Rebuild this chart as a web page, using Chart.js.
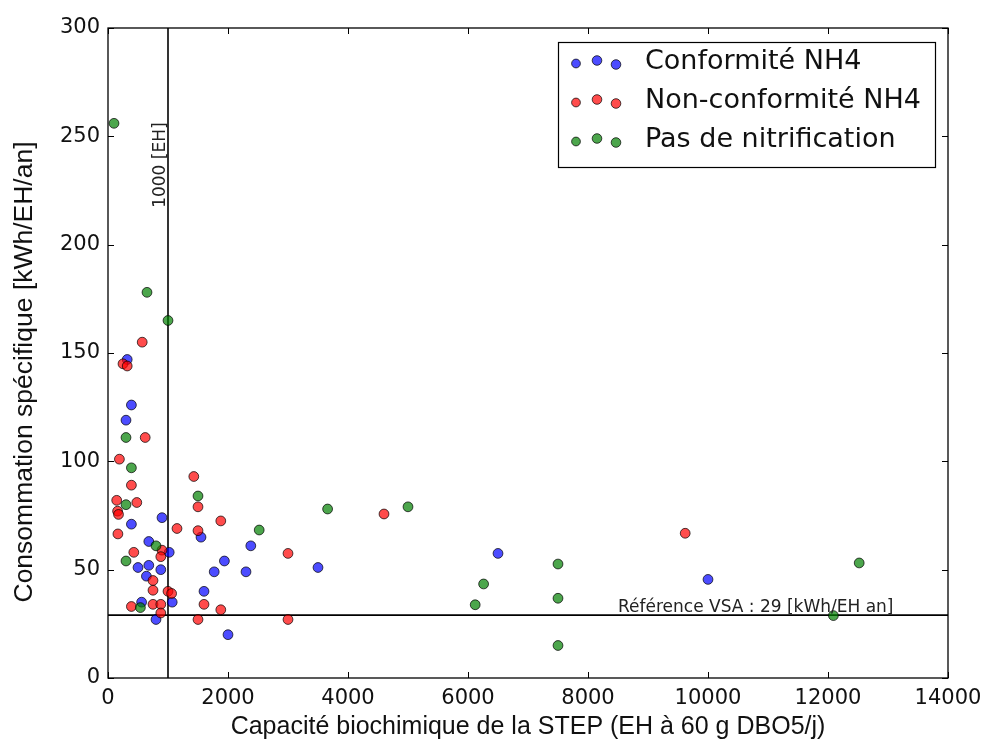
<!DOCTYPE html>
<html><head><meta charset="utf-8">
<script src="https://cdn.jsdelivr.net/npm/chart.js@4.4.0/dist/chart.umd.min.js"></script>
<style>html,body{margin:0;padding:0;background:#fff}</style>
</head><body>
<canvas id="c" width="986" height="742"></canvas>
<script>
// ---- data ----
const seriesNames = ['Conformité NH4', 'Non-conformité NH4', 'Pas de nitrification'];
const xTicks = [0, 2000, 4000, 6000, 8000, 10000, 12000, 14000];
const yTicks = [0, 50, 100, 150, 200, 250, 300];

const conformeX = [320, 390, 300, 390, 900, 1550, 680, 1020, 2380, 500, 680, 640, 880, 1940, 1770, 2300, 1070, 1600, 560, 800, 2000, 3500, 6500, 10000];
const conformeY = [147, 126, 119, 71, 74, 65, 63, 58, 61, 51, 52, 47, 50, 54, 49, 49, 35, 40, 35, 27, 20, 51, 57.5, 45.5];

const nonConformeX = [570, 250, 320, 620, 190, 1430, 390, 145, 480, 1500, 160, 175, 1880, 1150, 1500, 165, 900, 880, 430, 750, 750, 1000, 1060, 1600, 1880, 390, 750, 880, 880, 1500, 3000, 3000, 4600, 9620];
const nonConformeY = [155, 145, 144, 111, 101, 93, 89, 82, 81, 79, 77, 75.5, 72.5, 69, 68, 66.5, 59, 56, 58, 45, 40.5, 40, 39, 34, 31.5, 33, 34, 34, 30, 27, 27, 57.5, 75.7, 66.8];

const nitrifX = [100, 650, 1000, 300, 390, 300, 1500, 2520, 800, 300, 540, 3660, 5000, 6120, 6260, 7500, 7500, 7500, 12090, 12520];
const nitrifY = [256, 178, 165, 111, 97, 80, 84, 68.3, 61, 54, 32.5, 78, 79, 33.8, 43.4, 52.6, 36.8, 15, 28.8, 53.1];

const limitEH = 1000;           // vertical reference
const refVSA = 29;              // horizontal reference
const vLineX = [limitEH, limitEH], vLineY = [0, 300];
const hLineX = [0, 14000], hLineY = [refVSA, refVSA];
const refLabel = 'Référence VSA : 29 [kWh/EH an]';
const ehLabel = '1000 [EH]';
const xTitle = 'Capacité biochimique de la STEP (EH à 60 g DBO5/j)';
const yTitle = 'Consommation spécifique [kWh/EH/an]';

const colors = ['rgba(0,0,255,0.7)', 'rgba(255,0,0,0.7)', 'rgba(0,128,0,0.7)'];
const edge = 'rgba(0,0,0,0.7)';

const pts = (xs, ys) => xs.map((v, i) => ({x: v, y: ys[i]}));

const decor = {
  id: 'decor',
  afterDraw(chart) {
    const {ctx, chartArea: a, scales: {x, y}} = chart;
    ctx.save();
    ctx.strokeStyle = '#000';
    ctx.lineWidth = 1;
    const L = 6;
    ctx.beginPath();
    xTicks.forEach(v => {
      const px = Math.round(x.getPixelForValue(v)) + 0.5;
      ctx.moveTo(px, a.bottom); ctx.lineTo(px, a.bottom - L);
      ctx.moveTo(px, a.top); ctx.lineTo(px, a.top + L);
    });
    yTicks.forEach(v => {
      const py = Math.round(y.getPixelForValue(v)) + 0.5;
      ctx.moveTo(a.left, py); ctx.lineTo(a.left + L, py);
      ctx.moveTo(a.right, py); ctx.lineTo(a.right - L, py);
    });
    ctx.stroke();
    ctx.lineWidth = 1.3;
    ctx.strokeRect(a.left, a.top, a.right - a.left, a.bottom - a.top);

    // annotations
    ctx.fillStyle = '#222';
    ctx.font = '17px "DejaVu Sans"';
    ctx.textAlign = 'left';
    ctx.textBaseline = 'bottom';
    ctx.fillText(refLabel, x.getPixelForValue(8500), y.getPixelForValue(refVSA) + 1);
    ctx.save();
    ctx.translate(x.getPixelForValue(limitEH), y.getPixelForValue(217));
    ctx.rotate(-Math.PI / 2);
    ctx.fillText(ehLabel, 0, 1);
    ctx.restore();

    // legend
    const bx = 558, by = 42, bw = 377, bh = 125;
    ctx.fillStyle = '#fff';
    ctx.fillRect(bx, by, bw, bh);
    ctx.strokeStyle = '#000';
    ctx.lineWidth = 1.2;
    ctx.strokeRect(bx + 0.5, by + 0.5, bw, bh);
    const rows = [62, 101, 140];
    const mx = [576, 597, 616], my = [1.5, -1.5, 2.5], mr = [4.4, 4.8, 4.8];
    rows.forEach((ry, i) => {
      for (let k = 0; k < 3; k++) {
        ctx.beginPath();
        ctx.arc(mx[k], ry + my[k], mr[k], 0, Math.PI * 2);
        ctx.fillStyle = colors[i];
        ctx.fill();
        ctx.strokeStyle = edge;
        ctx.lineWidth = 1;
        ctx.stroke();
      }
      ctx.fillStyle = '#111';
      ctx.font = '27px "DejaVu Sans"';
      ctx.textAlign = 'left';
      ctx.textBaseline = 'middle';
      ctx.fillText(seriesNames[i], 645, ry);
    });

    // axis titles
    ctx.fillStyle = '#111';
    ctx.textAlign = 'center';
    ctx.textBaseline = 'middle';
    ctx.font = '25px "Liberation Sans"';
    ctx.fillText(xTitle, (a.left + a.right) / 2, 727);
    ctx.save();
    ctx.font = '26.5px "Liberation Sans"';
    ctx.translate(25, 372);
    ctx.rotate(-Math.PI / 2);
    ctx.fillText(yTitle, 0, 0);
    ctx.restore();
    ctx.restore();
  }
};

const pointDs = (i, xs, ys, order) => ({
  type: 'scatter',
  label: seriesNames[i],
  data: pts(xs, ys),
  backgroundColor: colors[i],
  borderColor: edge,
  borderWidth: 1,
  pointRadius: 4.9,
  pointHoverRadius: 4.9,
  order
});

new Chart(document.getElementById('c'), {
  type: 'scatter',
  data: {
    datasets: [
      pointDs(2, nitrifX, nitrifY, 0),
      pointDs(1, nonConformeX, nonConformeY, 1),
      pointDs(0, conformeX, conformeY, 2),
      {type: 'line', data: pts(vLineX, vLineY), borderColor: '#000', borderWidth: 1.6, pointRadius: 0, showLine: true, order: 5},
      {type: 'line', data: pts(hLineX, hLineY), borderColor: '#000', borderWidth: 1.6, pointRadius: 0, showLine: true, order: 5}
    ]
  },
  options: {
    responsive: false,
    animation: false,
    events: [],
    layout: {padding: {left: 0, top: 28, right: 38, bottom: 0}},
    plugins: {legend: {display: false}, tooltip: {enabled: false}},
    scales: {
      x: {
        type: 'linear', min: 0, max: 14000,
        afterFit: s => { s.height = 64; s.paddingLeft = 0; s.paddingRight = 0; },
        afterBuildTicks: s => { s.ticks = xTicks.map(v => ({value: v})); },
        grid: {display: false, drawTicks: false},
        border: {display: false},
        ticks: {padding: 8, color: '#111', font: {family: 'DejaVu Sans', size: 21}, maxRotation: 0, autoSkip: false, callback: v => String(v)}
      },
      y: {
        type: 'linear', min: 0, max: 300,
        afterFit: s => { s.width = 108; s.paddingTop = 0; s.paddingBottom = 0; },
        afterBuildTicks: s => { s.ticks = yTicks.map(v => ({value: v})); },
        grid: {display: false, drawTicks: false},
        border: {display: false},
        ticks: {padding: 8, color: '#111', font: {family: 'DejaVu Sans', size: 21}, autoSkip: false, callback: v => String(v)}
      }
    }
  },
  plugins: [decor]
});
</script>
</body></html>
